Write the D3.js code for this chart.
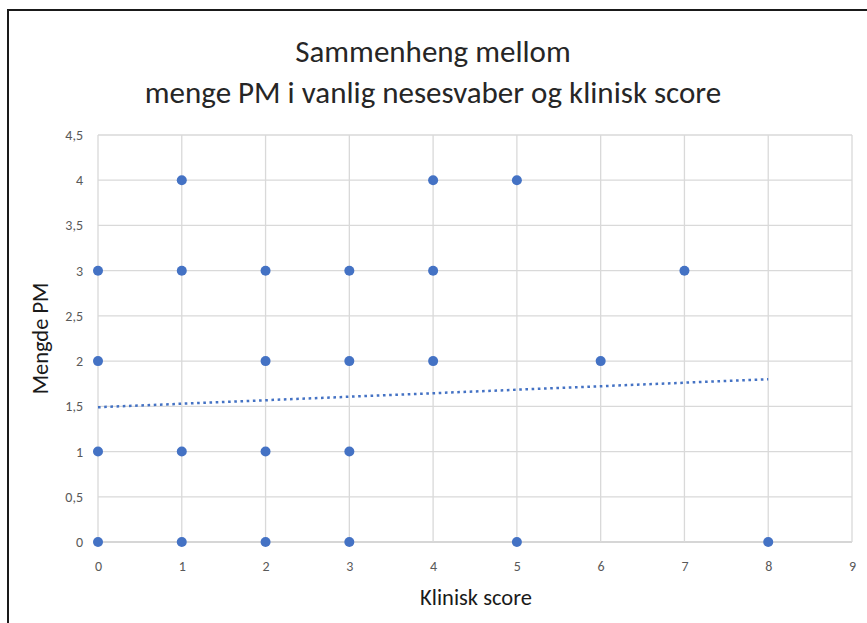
<!DOCTYPE html>
<html>
<head>
<meta charset="utf-8">
<script src="https://cdn.jsdelivr.net/npm/d3@7"></script>
<style>
  html, body { margin: 0; padding: 0; background: #fff; }
  svg { display: block; }
</style>
</head>
<body>
<svg id="chart" width="867" height="623"></svg>
<script>
// Klinisk score (x) and mengde PM (y) for each observation
const kliniskScore = [0, 0, 0, 0, 1, 1, 1, 1, 2, 2, 2, 2, 3, 3, 3, 3, 4, 4, 4, 5, 5, 6, 7, 8];
const mengdePM     = [3, 2, 1, 0, 4, 3, 1, 0, 3, 2, 1, 0, 3, 2, 1, 0, 4, 3, 2, 4, 0, 2, 3, 0];

// Linear trendline end points
const trendX = [0, 8];
const trendY = [1.49, 1.80];

// Axis ticks
const xTicks = [0, 1, 2, 3, 4, 5, 6, 7, 8, 9];
const yTicks = [0, 0.5, 1, 1.5, 2, 2.5, 3, 3.5, 4, 4.5];

const titleLines = ["Sammenheng mellom", "menge PM i vanlig nesesvaber og klinisk score"];
const xTitle = "Klinisk score";
const yTitle = "Mengde PM";

const svg = d3.select("#chart");
const font = "Carlito, Calibri, Lato, sans-serif";

const margin = { left: 98, right: 15, top: 135, bottom: 81 };
const W = 867, H = 623;

const x = d3.scaleLinear().domain([0, 9]).range([margin.left, W - margin.right]);
const y = d3.scaleLinear().domain([0, 4.5]).range([H - margin.bottom, margin.top]);

// Frame
svg.append("path")
  .attr("d", `M8,${H} L8,10 L${W},10`)
  .attr("fill", "none")
  .attr("stroke", "#1a1a1a")
  .attr("stroke-width", 2);

// Gridlines
const grid = svg.append("g");
grid.selectAll("line.h").data(yTicks).join("line")
  .attr("x1", x(0)).attr("x2", x(9))
  .attr("y1", d => y(d)).attr("y2", d => y(d))
  .attr("stroke", d => d === 0 ? "#c8c8c8" : "#d9d9d9")
  .attr("stroke-width", 1.3);
grid.selectAll("line.v").data(xTicks).join("line")
  .attr("y1", y(0)).attr("y2", y(4.5))
  .attr("x1", d => x(d)).attr("x2", d => x(d))
  .attr("stroke", "#d9d9d9")
  .attr("stroke-width", 1.3);

// Axes (labels only)
const fmt = d => String(d).replace(".", ",");
const xAxis = svg.append("g")
  .attr("transform", `translate(0,${y(0)})`)
  .call(d3.axisBottom(x).tickValues(xTicks).tickFormat(fmt).tickSize(0).tickPadding(19));
const yAxis = svg.append("g")
  .attr("transform", `translate(${x(0)},0)`)
  .call(d3.axisLeft(y).tickValues(yTicks).tickFormat(fmt).tickSize(0).tickPadding(15));
[xAxis, yAxis].forEach(a => {
  a.select(".domain").remove();
  a.selectAll("text")
    .attr("fill", "#595959")
    .style("font-family", font)
    .style("font-size", "14px");
});

// Trendline
svg.append("line")
  .attr("x1", x(trendX[0])).attr("y1", y(trendY[0]))
  .attr("x2", x(trendX[1])).attr("y2", y(trendY[1]))
  .attr("stroke", "#4472C4")
  .attr("stroke-width", 2.5)
  .attr("stroke-dasharray", "2.6,3.6");

// Points
svg.append("g").selectAll("circle")
  .data(kliniskScore.map((v, i) => ({ x: v, y: mengdePM[i] })))
  .join("circle")
  .attr("cx", d => x(d.x))
  .attr("cy", d => y(d.y))
  .attr("r", 5)
  .attr("fill", "#4472C4");

// Title
svg.append("g").selectAll("text")
  .data(titleLines)
  .join("text")
  .attr("x", 433)
  .attr("y", (d, i) => 62 + i * 41)
  .attr("text-anchor", "middle")
  .attr("fill", "#262626")
  .style("font-family", font)
  .style("font-size", "31px")
  .text(d => d);

// Axis titles
svg.append("text")
  .attr("x", 476).attr("y", 605)
  .attr("text-anchor", "middle")
  .attr("fill", "#1a1a1a")
  .style("font-family", font)
  .style("font-size", "22.5px")
  .text(xTitle);

svg.append("text")
  .attr("transform", `translate(48,${y(2.25)}) rotate(-90)`)
  .attr("text-anchor", "middle")
  .attr("fill", "#1a1a1a")
  .style("font-family", font)
  .style("font-size", "22.5px")
  .text(yTitle);
</script>
</body>
</html>
